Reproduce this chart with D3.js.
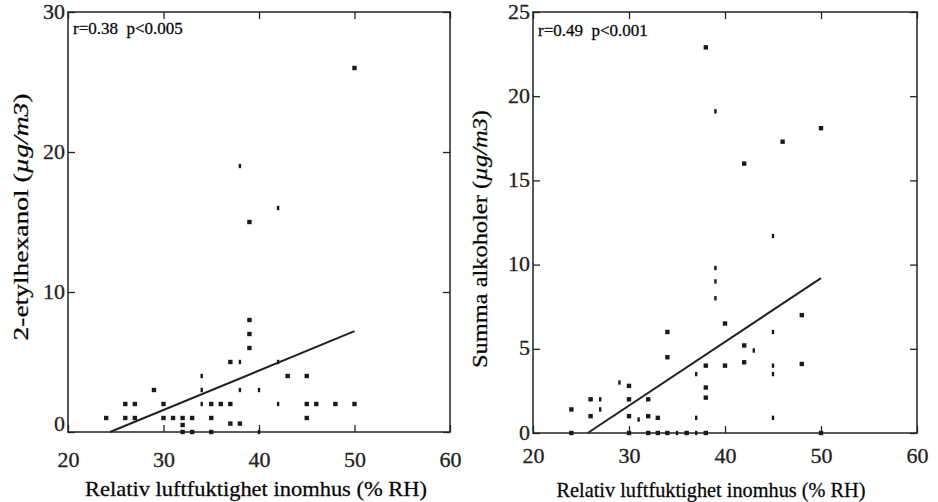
<!DOCTYPE html>
<html>
<head>
<meta charset="utf-8">
<script src="https://cdn.jsdelivr.net/npm/d3@7"></script>
</head>
<body style="margin:0; background:#fff">
<svg id="chart" width="938" height="502"></svg>
<script>
// x = relative humidity (% RH), y = concentration (ug/m3)
var xTicks = [20, 30, 40, 50, 60];

// 2-etylhexanol, square markers
var leftSquares = [
	[24,1],[26,2],[27,2],[26,1],[27,1],[29,3],[30,2],[30,1],[31,1],
	[32,1],[32,0.5],[32,0],[33,1],[33,0],[35,2],[36,2],[37,2],[35,1],[35,0],
	[37,5],[37,0.6],[38,0.6],[39,8],[39,7],[39,6],[39,15],[43,4],[45,4],
	[45,2],[46,2],[45,1],[48,2],[50,2],[50,26]
];
// 2-etylhexanol, narrow markers
var leftDots = [
	[34,4],[34,3],[34,2],[38,5],[38,3],[40,3],[42,2],[42,5],[38,19],[42,16],[40,0]
];
var leftFit = [[24.4,0],[50,7.2]];
var leftYTicks = [0, 10, 20, 30];
var leftStat = "r=0.38  p<0.005";

// Summa alkoholer, square markers
var rightSquares = [
	[24,1.4],[24,0],[26,2],[26,1],[30,2.8],[30,2],[30,1],[30,0],
	[32,2],[32,1],[32,0],[33,0.9],[33,0],[34,6],[34,4.5],[34,0],[36,0],
	[38,4],[38,2.7],[38,2.1],[38,0],[40,6.5],[40,4],[42,5.2],[42,4.2],
	[48,7],[48,4.1],[50,0],[38,22.9],[42,16],[46,17.3],[50,18.1]
];
var rightDots = [
	[27,2],[27,1.4],[29,3],[31,0.8],[35,0],[37,3.5],[37,0.9],[37,0],
	[39,9.8],[39,9],[39,8],[39,19.1],[43,4.9],[45,6],[45,4],[45,3.5],[45,0.9],[45,11.7]
];
var rightFit = [[25.7,0],[50,9.2]];
var rightYTicks = [0, 5, 10, 15, 20, 25];
var rightStat = "r=0.49  p<0.001";

var xTitle = "Relativ luftfuktighet inomhus (% RH)";

var svg = d3.select("#chart");
var serif = "'Liberation Serif', 'Times New Roman', serif";

function panel(opts) {
	var g = svg.append("g");
	var x = d3.scaleLinear().domain([20, 60]).range([opts.left, opts.right]);
	var y = d3.scaleLinear().domain([0, opts.ymax]).range([opts.bottom, opts.top]);
	var tk = 7;

	// bottom axis carries the labels, all ticks point inward
	g.append("g")
		.attr("transform", "translate(0," + opts.bottom + ")")
		.call(d3.axisBottom(x).tickValues(xTicks).tickSizeInner(-tk).tickSizeOuter(0).tickPadding(opts.xpad));
	g.append("g")
		.attr("transform", "translate(0," + opts.top + ")")
		.call(d3.axisTop(x).tickValues(xTicks).tickSizeInner(-tk).tickSizeOuter(0).tickFormat(""));
	var yl = g.append("g")
		.attr("transform", "translate(" + opts.left + ",0)")
		.call(d3.axisLeft(y).tickValues(opts.yTicks).tickSizeInner(-tk).tickSizeOuter(0).tickPadding(3));
	g.append("g")
		.attr("transform", "translate(" + opts.right + ",0)")
		.call(d3.axisRight(y).tickValues(opts.yTicks).tickSizeInner(-tk).tickSizeOuter(0).tickFormat(""));

	g.selectAll(".domain").remove();
	g.selectAll("g").attr("font-family", null).attr("font-size", null);
	g.selectAll(".tick line").attr("stroke", "#222").attr("stroke-width", 1.3);
	g.selectAll(".tick text")
		.attr("font-size", 22)
		.attr("fill", "#222");
	yl.selectAll(".tick text").attr("dy", "0.28em");
	yl.selectAll(".tick text").filter(function(d) { return d === 0; }).attr("dy", opts.zeroDy);

	// frame
	g.append("rect")
		.attr("x", opts.left).attr("y", opts.top)
		.attr("width", opts.right - opts.left)
		.attr("height", opts.bottom - opts.top)
		.attr("fill", "none").attr("stroke", "#222").attr("stroke-width", 1.5);

	// regression line
	g.append("path")
		.datum(opts.fit)
		.attr("fill", "none")
		.attr("stroke", "#222")
		.attr("stroke-width", 2)
		.attr("d", d3.line().x(function(d) { return x(d[0]); }).y(function(d) { return y(d[1]); }));

	g.append("g").selectAll("rect")
		.data(opts.squares)
		.enter().append("rect")
		.attr("x", function(d) { return x(d[0]) - 2.2; })
		.attr("y", function(d) { return y(d[1]) - 2.2; })
		.attr("width", 4.4).attr("height", 4.4)
		.attr("fill", "#1a1a1a");

	g.append("g").selectAll("rect")
		.data(opts.dots)
		.enter().append("rect")
		.attr("x", function(d) { return x(d[0]) - 1.2; })
		.attr("y", function(d) { return y(d[1]) - 2.2; })
		.attr("width", 2.4).attr("height", 4.4)
		.attr("fill", "#1a1a1a");

	g.append("text")
		.attr("x", opts.left + 5)
		.attr("y", opts.top + opts.statY)
		.attr("font-size", 17)
		.attr("xml:space", "preserve")
		.text(opts.stat);

	g.append("text")
		.attr("x", opts.xtc)
		.attr("y", opts.xty)
		.attr("text-anchor", "middle")
		.attr("font-size", 22)
		.attr("textLength", opts.xtw)
		.attr("lengthAdjust", "spacingAndGlyphs")
		.text(xTitle);

	var yt = g.append("text")
		.attr("transform", "translate(" + opts.ytx + "," + opts.ytc + ") rotate(-90)")
		.attr("text-anchor", "middle")
		.attr("font-size", 21)
		.attr("textLength", opts.ytw)
		.attr("lengthAdjust", "spacingAndGlyphs");
	yt.append("tspan").text(opts.ytitle + " (");
	yt.append("tspan").attr("font-style", "italic").text("µg/m3");
	yt.append("tspan").text(")");
}

panel({
	left: 68, right: 450, top: 12, bottom: 432, ymax: 30,
	yTicks: leftYTicks, squares: leftSquares, dots: leftDots, fit: leftFit,
	stat: leftStat, statY: 22, xpad: 19, zeroDy: "-0.05em",
	xtc: 256, xty: 496, xtw: 342,
	ytitle: "2-etylhexanol", ytx: 28, ytc: 217, ytw: 247
});

panel({
	left: 533, right: 917, top: 12, bottom: 433, ymax: 25,
	yTicks: rightYTicks, squares: rightSquares, dots: rightDots, fit: rightFit,
	stat: rightStat, statY: 24, xpad: 14, zeroDy: "0.3em",
	xtc: 711, xty: 497, xtw: 309,
	ytitle: "Summa alkoholer", ytx: 487, ytc: 239, ytw: 258
});

svg.selectAll("text")
	.style("font-family", serif)
	.attr("stroke", "#222")
	.attr("stroke-width", 0.3);
</script>
</body>
</html>
